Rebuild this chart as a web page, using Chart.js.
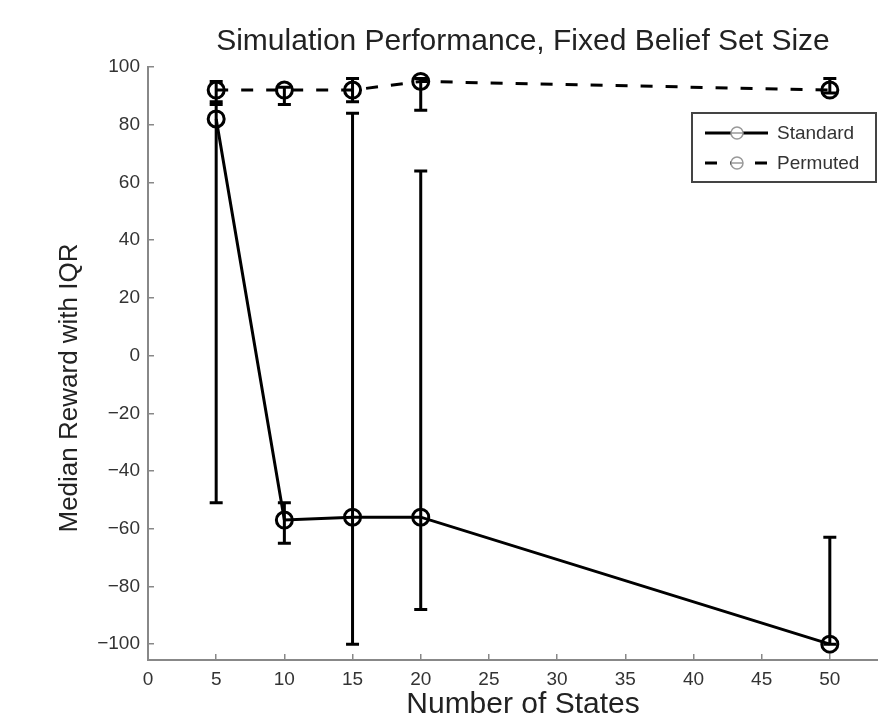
<!DOCTYPE html>
<html>
<head>
<meta charset="utf-8">
<script src="https://cdn.jsdelivr.net/npm/chart.js@4.4.1/dist/chart.umd.min.js"></script>
<style>
  body { margin: 0; background: #fff; }
  #wrap { width: 878px; height: 718px; overflow: hidden; }
</style>
</head>
<body>
<div id="wrap"><canvas id="chart" width="909" height="718"></canvas></div>
<script>
const numStates = [5, 10, 15, 20, 50];

const standardMedian = [82, -57, -56, -56, -100];
const standardLow = [-51, -65, -100, -88, -100];
const standardHigh = [87, -51, 84, 64, -63];

const permutedMedian = [92, 92, 92, 95, 92];
const permutedLow = [88, 87, 88, 85, 91];
const permutedHigh = [95, 93, 96, 96, 96];

const xTicks = [0, 5, 10, 15, 20, 25, 30, 35, 40, 45, 50];
const yTicks = [-100, -80, -60, -40, -20, 0, 20, 40, 60, 80, 100];

const FONT = "'Liberation Sans', Arial, Helvetica, sans-serif";

function points(ys) {
    return numStates.map((x, i) => ({x: x, y: ys[i]}));
}

// IQR whiskers, drawn under the markers
const errorBars = {
    id: 'errorBars',
    beforeDatasetsDraw(chart) {
        const ctx = chart.ctx;
        const xs = chart.scales.x;
        const ys = chart.scales.y;
        chart.data.datasets.forEach(ds => {
            ctx.save();
            ctx.strokeStyle = '#000';
            ctx.lineWidth = 3;
            ds.low.forEach((lo, i) => {
                const px = xs.getPixelForValue(numStates[i]);
                const y1 = ys.getPixelForValue(lo);
                const y2 = ys.getPixelForValue(ds.high[i]);
                ctx.beginPath();
                ctx.moveTo(px, y1); ctx.lineTo(px, y2);
                ctx.moveTo(px - 6.5, y1); ctx.lineTo(px + 6.5, y1);
                ctx.moveTo(px - 6.5, y2); ctx.lineTo(px + 6.5, y2);
                ctx.stroke();
            });
            ctx.restore();
        });
    }
};

// y label sits a little below the axis middle in the original
const yLabel = {
    id: 'yLabel',
    afterDraw(chart) {
        const ctx = chart.ctx;
        ctx.save();
        ctx.translate(70, 388);
        ctx.rotate(-Math.PI / 2);
        ctx.fillStyle = '#222';
        ctx.font = '26px ' + FONT;
        ctx.textAlign = 'center';
        ctx.textBaseline = 'middle';
        ctx.fillText('Median Reward with IQR', 0, 0);
        ctx.restore();
    }
};

// boxed legend inside the axes, top right
const boxLegend = {
    id: 'boxLegend',
    afterDraw(chart) {
        const ctx = chart.ctx;
        const left = 692, top = 113, w = 184, h = 69;
        ctx.save();
        ctx.fillStyle = '#fff';
        ctx.fillRect(left, top, w, h);
        ctx.strokeStyle = '#444';
        ctx.lineWidth = 2;
        ctx.strokeRect(left, top, w, h);
        chart.data.datasets.forEach((ds, i) => {
            const cy = top + 20 + i * 30;
            ctx.strokeStyle = '#000';
            ctx.lineWidth = 3;
            ctx.setLineDash(ds.borderDash || []);
            ctx.beginPath();
            ctx.moveTo(705, cy); ctx.lineTo(768, cy);
            ctx.stroke();
            ctx.setLineDash([]);
            ctx.fillStyle = '#fff';
            ctx.strokeStyle = '#999';
            ctx.lineWidth = 1.5;
            ctx.beginPath();
            ctx.arc(737, cy, 6, 0, Math.PI * 2);
            ctx.fill();
            ctx.stroke();
            ctx.beginPath();
            ctx.moveTo(731, cy); ctx.lineTo(743, cy);
            ctx.stroke();
            ctx.fillStyle = '#333';
            ctx.font = '19px ' + FONT;
            ctx.textBaseline = 'middle';
            ctx.fillText(ds.label, 777, cy + 1);
        });
        ctx.restore();
    }
};

new Chart(document.getElementById('chart'), {
    type: 'line',
    data: {
        datasets: [
            {
                label: 'Standard',
                data: points(standardMedian),
                low: standardLow,
                high: standardHigh,
                borderColor: '#000',
                borderWidth: 3,
                pointRadius: 8,
                pointBorderWidth: 3,
                pointBorderColor: '#000',
                pointBackgroundColor: 'rgba(0,0,0,0)',
                tension: 0,
            },
            {
                label: 'Permuted',
                data: points(permutedMedian),
                low: permutedLow,
                high: permutedHigh,
                borderColor: '#000',
                borderWidth: 3,
                borderDash: [12, 13],
                pointRadius: 8,
                pointBorderWidth: 3,
                pointBorderColor: '#000',
                pointBackgroundColor: 'rgba(0,0,0,0)',
                tension: 0,
            },
        ],
    },
    options: {
        responsive: false,
        animation: false,
        layout: {padding: 0},
        scales: {
            x: {
                type: 'linear',
                min: 0,
                max: 55,
                afterBuildTicks: s => { s.ticks = xTicks.map(v => ({value: v})); },
                afterFit: s => { s.height = 58; },
                grid: {
                    drawOnChartArea: false,
                    tickLength: -6,
                    color: '#888',
                    lineWidth: 1.5,
                },
                border: {color: '#888', width: 2},
                ticks: {
                    padding: 14,
                    color: '#333',
                    font: {family: FONT, size: 19},
                },
                title: {
                    display: true,
                    text: 'Number of States',
                    color: '#222',
                    font: {family: FONT, size: 30, lineHeight: 1},
                    padding: {top: 0, bottom: -2},
                },
            },
            y: {
                min: -105.5,
                max: 100,
                afterBuildTicks: s => { s.ticks = yTicks.map(v => ({value: v})); },
                afterFit: s => { s.width = 148; },
                grid: {
                    drawOnChartArea: false,
                    tickLength: -6,
                    color: '#888',
                    lineWidth: 1.5,
                },
                border: {color: '#888', width: 2},
                ticks: {
                    padding: 14,
                    color: '#333',
                    font: {family: FONT, size: 19},
                    callback: v => String(v).replace('-', '\u2212'),
                },
            },
        },
        plugins: {
            legend: {display: false},
            tooltip: {enabled: false},
            title: {
                display: true,
                fullSize: false,
                text: 'Simulation Performance, Fixed Belief Set Size',
                color: '#222',
                font: {family: FONT, size: 30, weight: 'normal', lineHeight: 1},
                padding: {top: 27, bottom: 10},
            },
        },
    },
    plugins: [errorBars, yLabel, boxLegend],
});
</script>
</body>
</html>
